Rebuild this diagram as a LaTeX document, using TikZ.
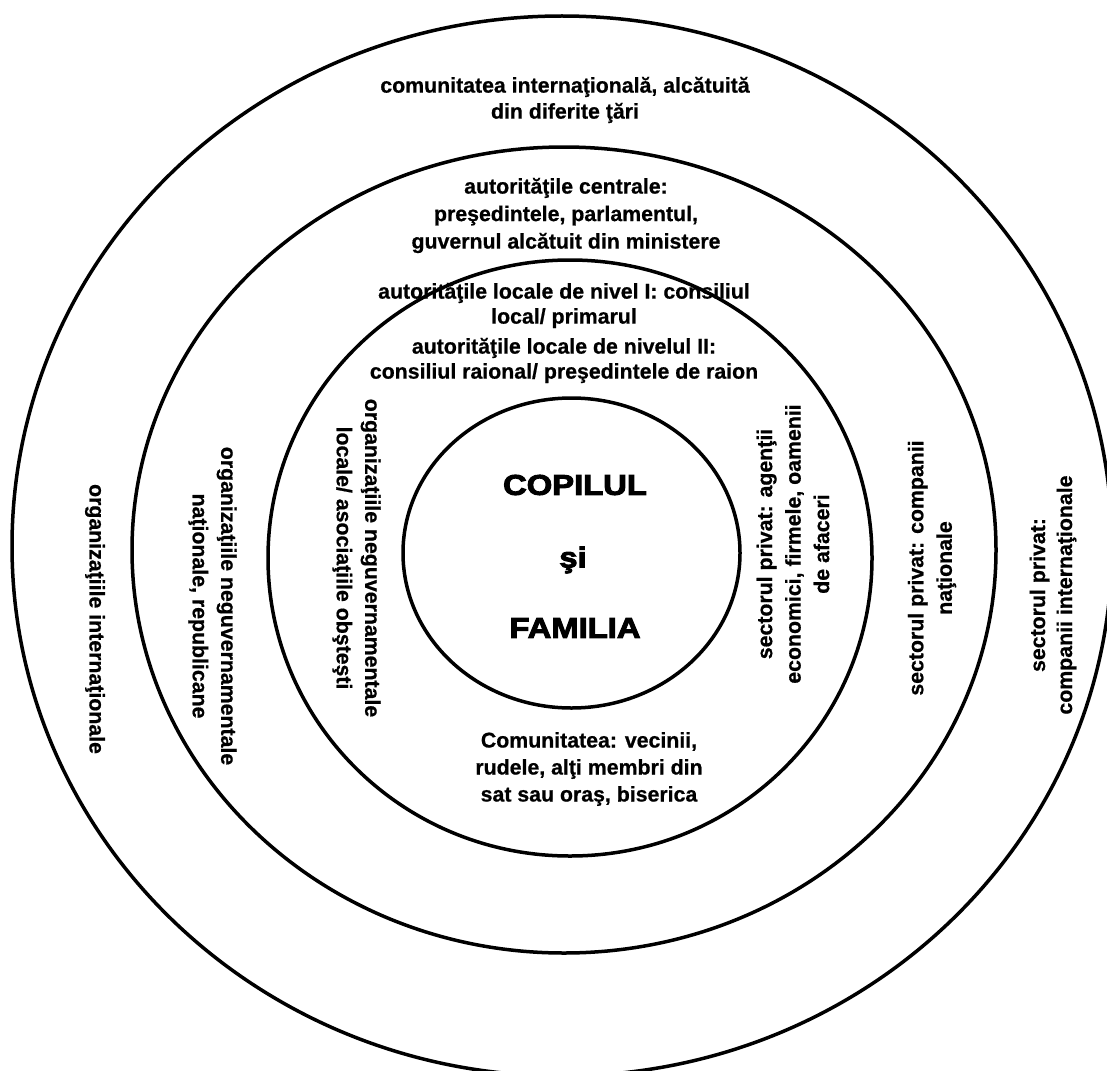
\documentclass[tikz,border=0pt]{standalone}
\usepackage{fontspec}
\setmainfont{Liberation Sans}[BoldFeatures={FakeBold=0.7}]
\newfontfamily\heavyfont{Liberation Sans}[BoldFeatures={FakeBold=3.5},FakeStretch=1.15]
\begin{document}
\begin{tikzpicture}[x=1pt,y=-1pt,
  ring/.style={line width=3.5pt},
  lbl/.style={font=\fontsize{21.3}{25}\selectfont\bfseries, align=center, inner sep=0pt},
  vlbl/.style={font=\fontsize{21.3}{28.5}\selectfont\bfseries, align=center, inner sep=0pt},
  big/.style={font=\fontsize{28.5}{32}\selectfont\heavyfont\bfseries, inner sep=0pt}]
\useasboundingbox (0,0) rectangle (1107,1070);
\clip (0,0) rectangle (1107,1070);
% rings
\coordinate (c1) at (562,546);
\coordinate (c2) at (564,550);
\coordinate (c3) at (570,558);
\coordinate (c4) at (571.5,553);
\draw[ring] (c1) ellipse [x radius=550, y radius=530];
\draw[ring] (c2) ellipse [x radius=432, y radius=403];
\draw[ring] (c3) ellipse [x radius=302, y radius=298];
\draw[ring] (c4) ellipse [x radius=168.5, y radius=155];
% top texts
\node[lbl, font=\fontsize{21.3}{26}\selectfont\bfseries] (intl) at (565,100) {comunitatea internaţională, alcătuită\\din diferite ţări};
\node[lbl, font=\fontsize{21.3}{27.5}\selectfont\bfseries] (central) at (566,215.5) {autorităţile centrale:\\preşedintele, parlamentul,\\guvernul alcătuit din ministere};
\node[lbl] (loc1) at (564,305.5) {autorităţile locale de nivel I: consiliul\\local/ primarul};
\node[lbl] (loc2) at (564,360.5) {autorităţile locale de nivelul II:\\consiliul raional/ preşedintele de raion};
% centre
\node[big] (copil) at (575,485) {COPILUL};
\node[big] (si) at (573,560) {şi};
\node[big] (fam) at (575,628) {FAMILIA};
% bottom
\node[lbl, font=\fontsize{21.3}{27}\selectfont\bfseries] (comun) at (589,769) {Comunitatea: vecinii,\\rudele, alţi membri din\\sat sau oraş, biserica};
% left vertical
\node[vlbl, rotate=-90] (orgint) at (95,619) {organizaţiile internaţionale};
\node[vlbl, rotate=-90] (ongnat) at (212.5,606) {organizaţiile neguvernamentale\\naţionale, republicane};
\node[vlbl, rotate=-90] (ongloc) at (356.5,558) {organizaţiile neguvernamentale\\locale/ asociaţiile obşteşti};
% right vertical
\node[vlbl, rotate=90] (privloc) at (793,544) {sectorul privat: agenţii\\economici, firmele, oamenii\\de afaceri};
\node[vlbl, rotate=90] (privnat) at (932,568) {sectorul privat: companii\\naţionale};
\node[vlbl, rotate=90, font=\fontsize{21.3}{27}\selectfont\bfseries] (privint) at (1053,595) {sectorul privat:\\companii internaţionale};
\end{tikzpicture}
\end{document}
